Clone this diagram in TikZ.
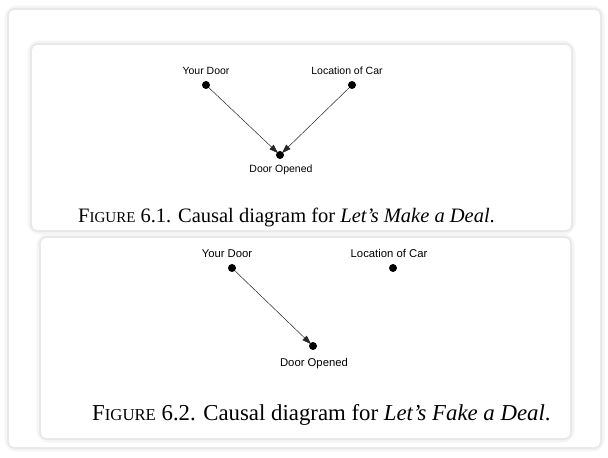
\documentclass[tikz,border=0pt]{standalone}
\usepackage{fontspec}
\setmainfont{Liberation Serif}
\newfontfamily\labfont{Liberation Sans}
\usetikzlibrary{arrows.meta}
\newcommand{\fakesc}[3]{#1{\fontsize{#3}{#3}\selectfont #2}}
\tikzset{
  card/.style={fill=white, rounded corners=5pt},
  shadowA/.style={draw=black!9, line width=4pt, rounded corners=6pt},
  shadowB/.style={draw=black!4, line width=9pt, rounded corners=8pt},
  dot/.style={circle, fill=black, inner sep=0pt, minimum size=8pt},
  lab/.style={font=\labfont\fontsize{10.5}{12}\selectfont, inner sep=0pt, text height=7.5pt, text depth=0pt},
  labB/.style={font=\labfont\fontsize{11.3}{13}\selectfont, inner sep=0pt, text height=8pt, text depth=0pt},
  capt/.style={font=\fontsize{20.5}{24}\selectfont, inner sep=0pt, anchor=base west},
  captB/.style={font=\fontsize{22.8}{26}\selectfont, inner sep=0pt, anchor=base west},
  arr/.style={draw=black!85, line width=0.5pt, -{Triangle[length=9pt,width=6pt]}, shorten >=-1.5pt}
}
\begin{document}
\begin{tikzpicture}[x=1pt,y=-1pt]
\useasboundingbox (0,0) rectangle (608,458);
\fill[white] (0,0) rectangle (608,458);
% outer card
\draw[shadowB] (9,10) rectangle (600,447);
\draw[shadowA] (9,10) rectangle (600,447);
\fill[card] (9,10) rectangle (600,447);
% inner card 1
\draw[shadowB] (32,45) rectangle (571,230);
\draw[shadowA] (32,45) rectangle (571,230);
\fill[card] (32,45) rectangle (571,230);
% inner card 2
\draw[shadowB] (41,238) rectangle (570,438);
\draw[shadowA] (41,238) rectangle (570,438);
\fill[card] (41,238) rectangle (570,438);

% figure 1
\node[dot] (yd1) at (206,85) {};
\node[dot] (lc1) at (352,85) {};
\node[dot] (do1) at (280,155) {};
\node[lab] (yd1l) at (206,71) {Your Door};
\node[lab] (lc1l) at (347,71) {Location of Car};
\node[lab] (do1l) at (281,169) {Door Opened};
\draw[arr] (yd1) -- (do1);
\draw[arr] (lc1) -- (do1);
\node[capt] (cap1) at (78,222) {\fakesc{F}{IGURE}{15} 6.1. Causal diagram for \textit{Let’s Make a Deal}.};

% figure 2
\node[dot] (yd2) at (232,268) {};
\node[dot] (lc2) at (393,268) {};
\node[dot] (do2) at (313,346) {};
\node[labB] (yd2l) at (227,253) {Your Door};
\node[labB] (lc2l) at (389,253) {Location of Car};
\node[labB] (do2l) at (314,362) {Door Opened};
\draw[arr] (yd2) -- (do2);
\node[captB] (cap2) at (92,420) {\fakesc{F}{IGURE}{16.7} 6.2. Causal diagram for \textit{Let’s Fake a Deal}.};
\end{tikzpicture}
\end{document}
